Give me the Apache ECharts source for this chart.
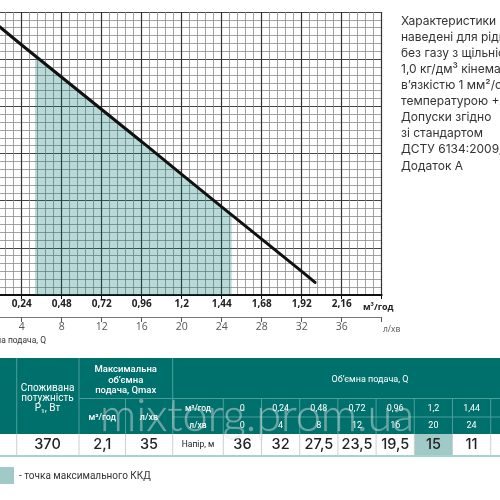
<!DOCTYPE html>
<html>
<head>
<meta charset="utf-8">
<script src="https://cdn.jsdelivr.net/npm/echarts@6/dist/echarts.min.js"></script>
<style>html,body{margin:0;padding:0;background:#fff;overflow:hidden}#c{position:absolute;left:-40px;top:0;width:540px;height:500px}</style>
</head>
<body>
<div id="c"></div>
<script>
// ---- data ----
// curve
var curveQ = [0, 0.24, 0.48, 0.72, 0.96, 1.2, 1.44, 1.68, 1.92, 2.0];
var curveH = [36, 31.8, 27.7, 23.6, 19.5, 15.35, 11.2, 7.1, 3.0, 1.6];
// shaded zone (working range)
var shadeQ = [0.32, 0.48, 0.72, 0.96, 1.2, 1.44, 1.5];
var shadeH = [30.45, 27.7, 23.6, 19.5, 15.35, 11.2, 10.2];
// table
var tableQm3 = ['0', '0,24', '0,48', '0,72', '0,96', '1,2', '1,44', '1,68'];
var tableQl = ['0', '4', '8', '12', '16', '20', '24', '28'];
var tableHead = ['36', '32', '27,5', '23,5', '19,5', '15', '11', '7'];
var bestIndex = 5;
var powerW = '370';
var qmaxM3 = '2,1';
var qmaxL = '35';
var noteLines = ['Характеристики', 'наведені для рідин', 'без газу з щільністю', '1,0 кг/дм³ кінематичною', 'в\u2019язкістю 1 мм²/с і', 'температурою +20°C.', 'Допуски згідно', 'зі стандартом', 'ДСТУ 6134:2009,', 'Додаток А'];

var OX = 40; // container is shifted left by OX pixels
var teal = '#00706d';
var tealLine = '#4a9e9a';
var shadeCol = '#9fcac7';
var F = 'Roboto, sans-serif';

function fmt(v) { return String(Math.round(v * 100) / 100).replace('.', ','); }

var g = [];
function rect(x, y, w, h, fill, z) { g.push({type: 'rect', z: z || 1, shape: {x: x + OX, y: y, width: w, height: h}, style: {fill: fill}}); }
function line(x1, y1, x2, y2, col, w) { g.push({type: 'line', z: 3, shape: {x1: x1 + OX, y1: y1, x2: x2 + OX, y2: y2}, style: {stroke: col, lineWidth: w || 1}}); }
function txt(x, y, s, size, col, opt) {
  opt = opt || {};
  g.push({type: 'text', z: 4, x: x + OX, y: y, style: {text: s, fill: col, font: (opt.w || 'normal') + ' ' + size + 'px ' + (opt.f || F), textAlign: opt.a || 'center', textVerticalAlign: 'middle'}});
}

// table geometry
var T = 358, R1 = 398.5, R2 = 417, HB = 434, WB = 455;
var cx = [0, 16.7, 79, 125.5, 172.7, 223.3];
var cw = 38.2;
rect(-OX, T, 540, HB - T, teal);
rect(-OX, HB, 540, WB - HB, '#ffffff');
rect(cx[5] + bestIndex * cw, HB, cw, WB - HB, shadeCol, 2);
line(-OX, WB + 1, 500, WB + 1, '#a6d3d0', 2);
// header lines
line(cx[1], T, cx[1], HB, tealLine);
line(cx[2], T, cx[2], HB, tealLine);
line(cx[4], T, cx[4], HB, tealLine);
line(cx[2], R1, 500, R1, tealLine);
line(cx[3], R1, cx[3], HB, tealLine);
line(cx[4], R2, 500, R2, tealLine);
for (var i = 0; i < 8; i++) line(cx[5] + i * cw, R1, cx[5] + i * cw, HB, tealLine);
// white row lines
var wl = [cx[1], cx[2], cx[3], cx[4]];
for (i = 0; i < 9; i++) wl.push(cx[5] + i * cw);
wl.forEach(function (x) { line(x, HB, x, WB, '#cfcfcf'); });

// header text
txt(47.5, 388, 'Споживана', 10, '#fff');
txt(47.5, 398.5, 'потужність', 10, '#fff');
txt(47.5, 408.5, 'P\u2081, Вт', 10, '#fff');
txt(125.7, 370, 'Максимальна', 9.5, '#fff', {w: 500});
txt(125.7, 380.5, 'об\u2019ємна', 9.5, '#fff', {w: 500});
txt(125.7, 391, 'подача, Qmax', 9.5, '#fff', {w: 500});
txt(102.3, 417.5, 'м³/год', 9, '#fff', {w: 500});
txt(149, 417.5, 'л/хв', 9, '#fff', {w: 500});
txt(370, 380, 'Об\u2019ємна подача, Q', 9, '#fff');
txt(198, 408.5, 'м³/год', 8.5, '#fff', {w: 500});
txt(198, 426, 'л/хв', 8.5, '#fff', {w: 500});
for (i = 0; i < 8; i++) {
  var mx = cx[5] + i * cw + cw / 2;
  txt(mx, 408.5, tableQm3[i], 9, '#fff');
  txt(mx, 426, tableQl[i], 9, '#fff');
  txt(mx, 445, tableHead[i], 14.5, '#222', {w: 500, f: 'Inter, sans-serif'});
}
txt(47.5, 445, powerW, 14.5, '#222', {w: 500, f: 'Inter, sans-serif'});
txt(102.3, 445, qmaxM3, 14.5, '#222', {w: 500, f: 'Inter, sans-serif'});
txt(149, 445, qmaxL, 14.5, '#222', {w: 500, f: 'Inter, sans-serif'});
txt(198, 445, 'Напір, м', 8.5, '#222');

// watermark
g.push({type: 'text', z: 6, x: 257 + OX, y: 416, style: {text: 'mixtorg.prom.ua', fill: 'rgba(255,255,255,0.38)', stroke: 'rgba(150,150,150,0.25)', lineWidth: 0.8, font: '300 45px Lato, sans-serif', textAlign: 'center', textVerticalAlign: 'middle'}});

// legend
rect(0, 467, 14, 17, shadeCol);
txt(19, 476.5, '- точка максимального ККД', 10, '#333', {a: 'left'});

// axis texts
txt(363, 307, 'м³/год', 9, '#222', {a: 'left', w: 'bold', f: '"Open Sans", sans-serif'});
txt(383, 330, 'л/хв', 8.5, '#555', {a: 'left', f: '"Open Sans", sans-serif'});
txt(46, 341, 'Об\u2019ємна подача, Q', 8.5, '#333', {a: 'right'});

// note text
noteLines.forEach(function (s, k) { txt(401, 21 + k * 16.1, s, 12, '#333', {a: 'left', f: 'Inter, sans-serif'}); });

var chart = echarts.init(document.getElementById('c'), null, {renderer: 'canvas'});
chart.setOption({
  animation: false,
  grid: {left: OX - 18.3, top: 12, width: 400, height: 283, containLabel: false, outerBoundsMode: 'none'},
  xAxis: [{
    type: 'value', min: 0, max: 2.4, interval: 0.24, position: 'bottom',
    axisLine: {lineStyle: {color: '#111', width: 2}},
    axisTick: {length: 4, lineStyle: {color: '#111'}},
    axisLabel: {margin: 4, fontSize: 10, fontWeight: 'bold', color: '#222', fontFamily: '"Open Sans", sans-serif',
      formatter: function (v) { return (v <= 0 || v >= 2.39) ? '' : fmt(v); }},
    splitLine: {show: true, lineStyle: {color: '#333', width: 1.2}},
    minorTick: {show: false, splitNumber: 5},
    minorSplitLine: {show: true, lineStyle: {color: '#8a8a8a', width: 0.8}}
  }, {
    type: 'value', min: 0, max: 40, interval: 4, position: 'bottom', offset: 22,
    axisLine: {lineStyle: {color: '#777', width: 1}},
    axisTick: {length: 5, lineStyle: {color: '#555'}},
    axisLabel: {margin: 5, fontSize: 10.5, color: '#555', fontFamily: '"Open Sans", sans-serif',
      formatter: function (v) { return (v <= 0 || v >= 40) ? '' : String(v); }},
    splitLine: {show: false}
  }],
  yAxis: {
    type: 'value', min: 0, max: 36, interval: 6,
    axisLine: {show: false}, axisTick: {show: false}, axisLabel: {show: false},
    splitLine: {show: true, lineStyle: {color: '#444', width: 1.2}},
    minorTick: {show: false, splitNumber: 6},
    minorSplitLine: {show: true, lineStyle: {color: '#999', width: 0.9}}
  },
  series: [{
    type: 'line', xAxisIndex: 0, z: 2, symbol: 'none', silent: true,
    data: shadeQ.map(function (q, k) { return [q, shadeH[k]]; }),
    lineStyle: {width: 0}, areaStyle: {color: 'rgba(0,118,112,0.4)', origin: 'start'}
  }, {
    type: 'line', xAxisIndex: 0, z: 3, symbol: 'none', silent: true,
    data: curveQ.map(function (q, k) { return [q, curveH[k]]; }),
    lineStyle: {color: '#111', width: 3, cap: 'round'}
  }],
  graphic: g
});
</script>
</body>
</html>
